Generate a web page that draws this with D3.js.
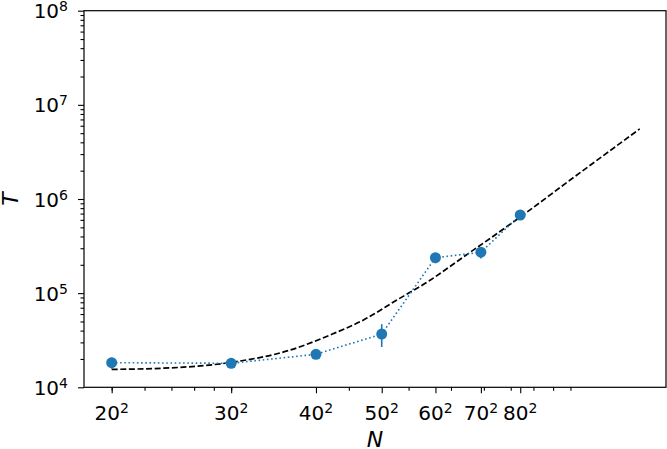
<!DOCTYPE html>
<html>
<head>
<meta charset="utf-8">
<script src="https://cdn.jsdelivr.net/npm/d3@7"></script>
<style>
  body { margin: 0; background: #fff; }
  text { font-family: "DejaVu Sans", sans-serif; fill: #000; }
</style>
</head>
<body>
<div id="viz"></div>
<script>
// measured points: N = side^2
var nValues = [400, 900, 1600, 2500, 3600, 4900, 6400];
var sideLabels = ["20", "30", "40", "50", "60", "70", "80"];
var tValues = [18250, 18000, 22400, 36800, 238000, 272000, 676000];
var tErrors = [2500, 800, 1000, 10000, 30000, 38000, 40000];

// dashed fit curve
var fitN = [400, 600, 900, 1340, 1760, 2210, 2770, 3470, 4250, 6460, 9000, 14400];
var fitT = [15500, 16100, 18400, 24800, 35900, 51900, 84500, 137000, 228000, 659000, 1600000, 5550000];

var yExponents = [4, 5, 6, 7, 8];

var W = 667, H = 449;
var mLeft = 84, mRight = 666, mTop = 10.7, mBottom = 387.3;

var svg = d3.select("#viz").append("svg")
    .attr("width", W).attr("height", H);

var x = d3.scaleLog().domain([331.5, 17210]).range([mLeft, mRight]);
var y = d3.scaleLog().domain([1e4, 1e8]).range([mBottom, mTop]);

// minor ticks 2..9 per decade
var xMinor = [], yMinor = [];
for (var k = 2; k <= 4; k++) {
  for (var m = 2; m <= 9; m++) {
    var v = m * Math.pow(10, k);
    if (v >= x.domain()[0] && v <= x.domain()[1]) xMinor.push(v);
  }
}
for (var k = 4; k <= 7; k++) {
  for (var m = 2; m <= 9; m++) yMinor.push(m * Math.pow(10, k));
}

var ax = svg.append("g").attr("class", "axes");

// x ticks
ax.append("g").attr("transform", "translate(0," + mBottom + ")")
  .call(d3.axisBottom(x).tickValues(xMinor).tickSize(3.5).tickFormat(""))
  .call(function(g){ g.select(".domain").remove(); });
ax.append("g").attr("transform", "translate(0," + mBottom + ")")
  .call(d3.axisBottom(x).tickValues(nValues).tickSize(6).tickFormat(""))
  .call(function(g){ g.select(".domain").remove(); });

// y ticks
ax.append("g").attr("transform", "translate(" + mLeft + ",0)")
  .call(d3.axisLeft(y).tickValues(yMinor).tickSize(3.5).tickFormat(""))
  .call(function(g){ g.select(".domain").remove(); });
ax.append("g").attr("transform", "translate(" + mLeft + ",0)")
  .call(d3.axisLeft(y).tickValues(yExponents.map(function(e){ return Math.pow(10, e); })).tickSize(6).tickFormat(""))
  .call(function(g){ g.select(".domain").remove(); });

ax.selectAll(".tick line").attr("stroke", "#000").attr("stroke-width", 1.1);

// x tick labels  (side^2)
var xl = svg.append("g").selectAll("text")
    .data(nValues)
    .enter().append("text")
    .attr("x", function(d){ return x(d); })
    .attr("y", 420)
    .attr("text-anchor", "middle")
    .style("font-size", "20px");
xl.append("tspan").text(function(d, i){ return sideLabels[i]; });
xl.append("tspan").attr("dy", -7).style("font-size", "14px").text("2");

// y tick labels  10^k
var yl = svg.append("g").selectAll("text")
    .data(yExponents)
    .enter().append("text")
    .attr("x", 68)
    .attr("y", function(d){ return y(Math.pow(10, d)) + 7.5; })
    .attr("text-anchor", "end")
    .style("font-size", "20px");
yl.append("tspan").text("10");
yl.append("tspan").attr("dy", -7).style("font-size", "14px").text(function(d){ return d; });

// axis labels
svg.append("text")
    .attr("x", (mLeft + mRight) / 2).attr("y", 447)
    .attr("text-anchor", "middle")
    .style("font-size", "22px").style("font-style", "italic")
    .text("N");
svg.append("text")
    .attr("transform", "translate(18," + ((mTop + mBottom) / 2) + ") rotate(-90)")
    .attr("text-anchor", "middle")
    .style("font-size", "22px").style("font-style", "italic")
    .text("T");

// fit curve
var fitLine = d3.line()
    .x(function(d, i){ return x(fitN[i]); })
    .y(function(d){ return y(d); })
    .curve(d3.curveMonotoneX);
svg.append("path")
    .attr("d", fitLine(fitT))
    .attr("fill", "none")
    .attr("stroke", "#000")
    .attr("stroke-width", 1.7)
    .attr("stroke-dasharray", "6,2.6");

// data: dotted line, error bars, markers
var blue = "#1f77b4";
var dataLine = d3.line()
    .x(function(d, i){ return x(nValues[i]); })
    .y(function(d){ return y(d); });
svg.append("path")
    .attr("d", dataLine(tValues))
    .attr("fill", "none")
    .attr("stroke", blue)
    .attr("stroke-width", 1.6)
    .attr("stroke-dasharray", "1.6,2.6");

svg.append("g").selectAll("line")
    .data(tValues)
    .enter().append("line")
    .attr("x1", function(d, i){ return x(nValues[i]); })
    .attr("x2", function(d, i){ return x(nValues[i]); })
    .attr("y1", function(d, i){ return y(d + tErrors[i]); })
    .attr("y2", function(d, i){ return y(d - tErrors[i]); })
    .attr("stroke", blue)
    .attr("stroke-width", 1.6);

svg.append("g").selectAll("circle")
    .data(tValues)
    .enter().append("circle")
    .attr("cx", function(d, i){ return x(nValues[i]); })
    .attr("cy", function(d){ return y(d); })
    .attr("r", 5.5)
    .attr("fill", blue);

// frame
svg.append("rect")
    .attr("x", mLeft).attr("y", mTop)
    .attr("width", mRight - mLeft).attr("height", mBottom - mTop)
    .attr("fill", "none")
    .attr("stroke", "#000")
    .attr("stroke-width", 1.2);
</script>
</body>
</html>
